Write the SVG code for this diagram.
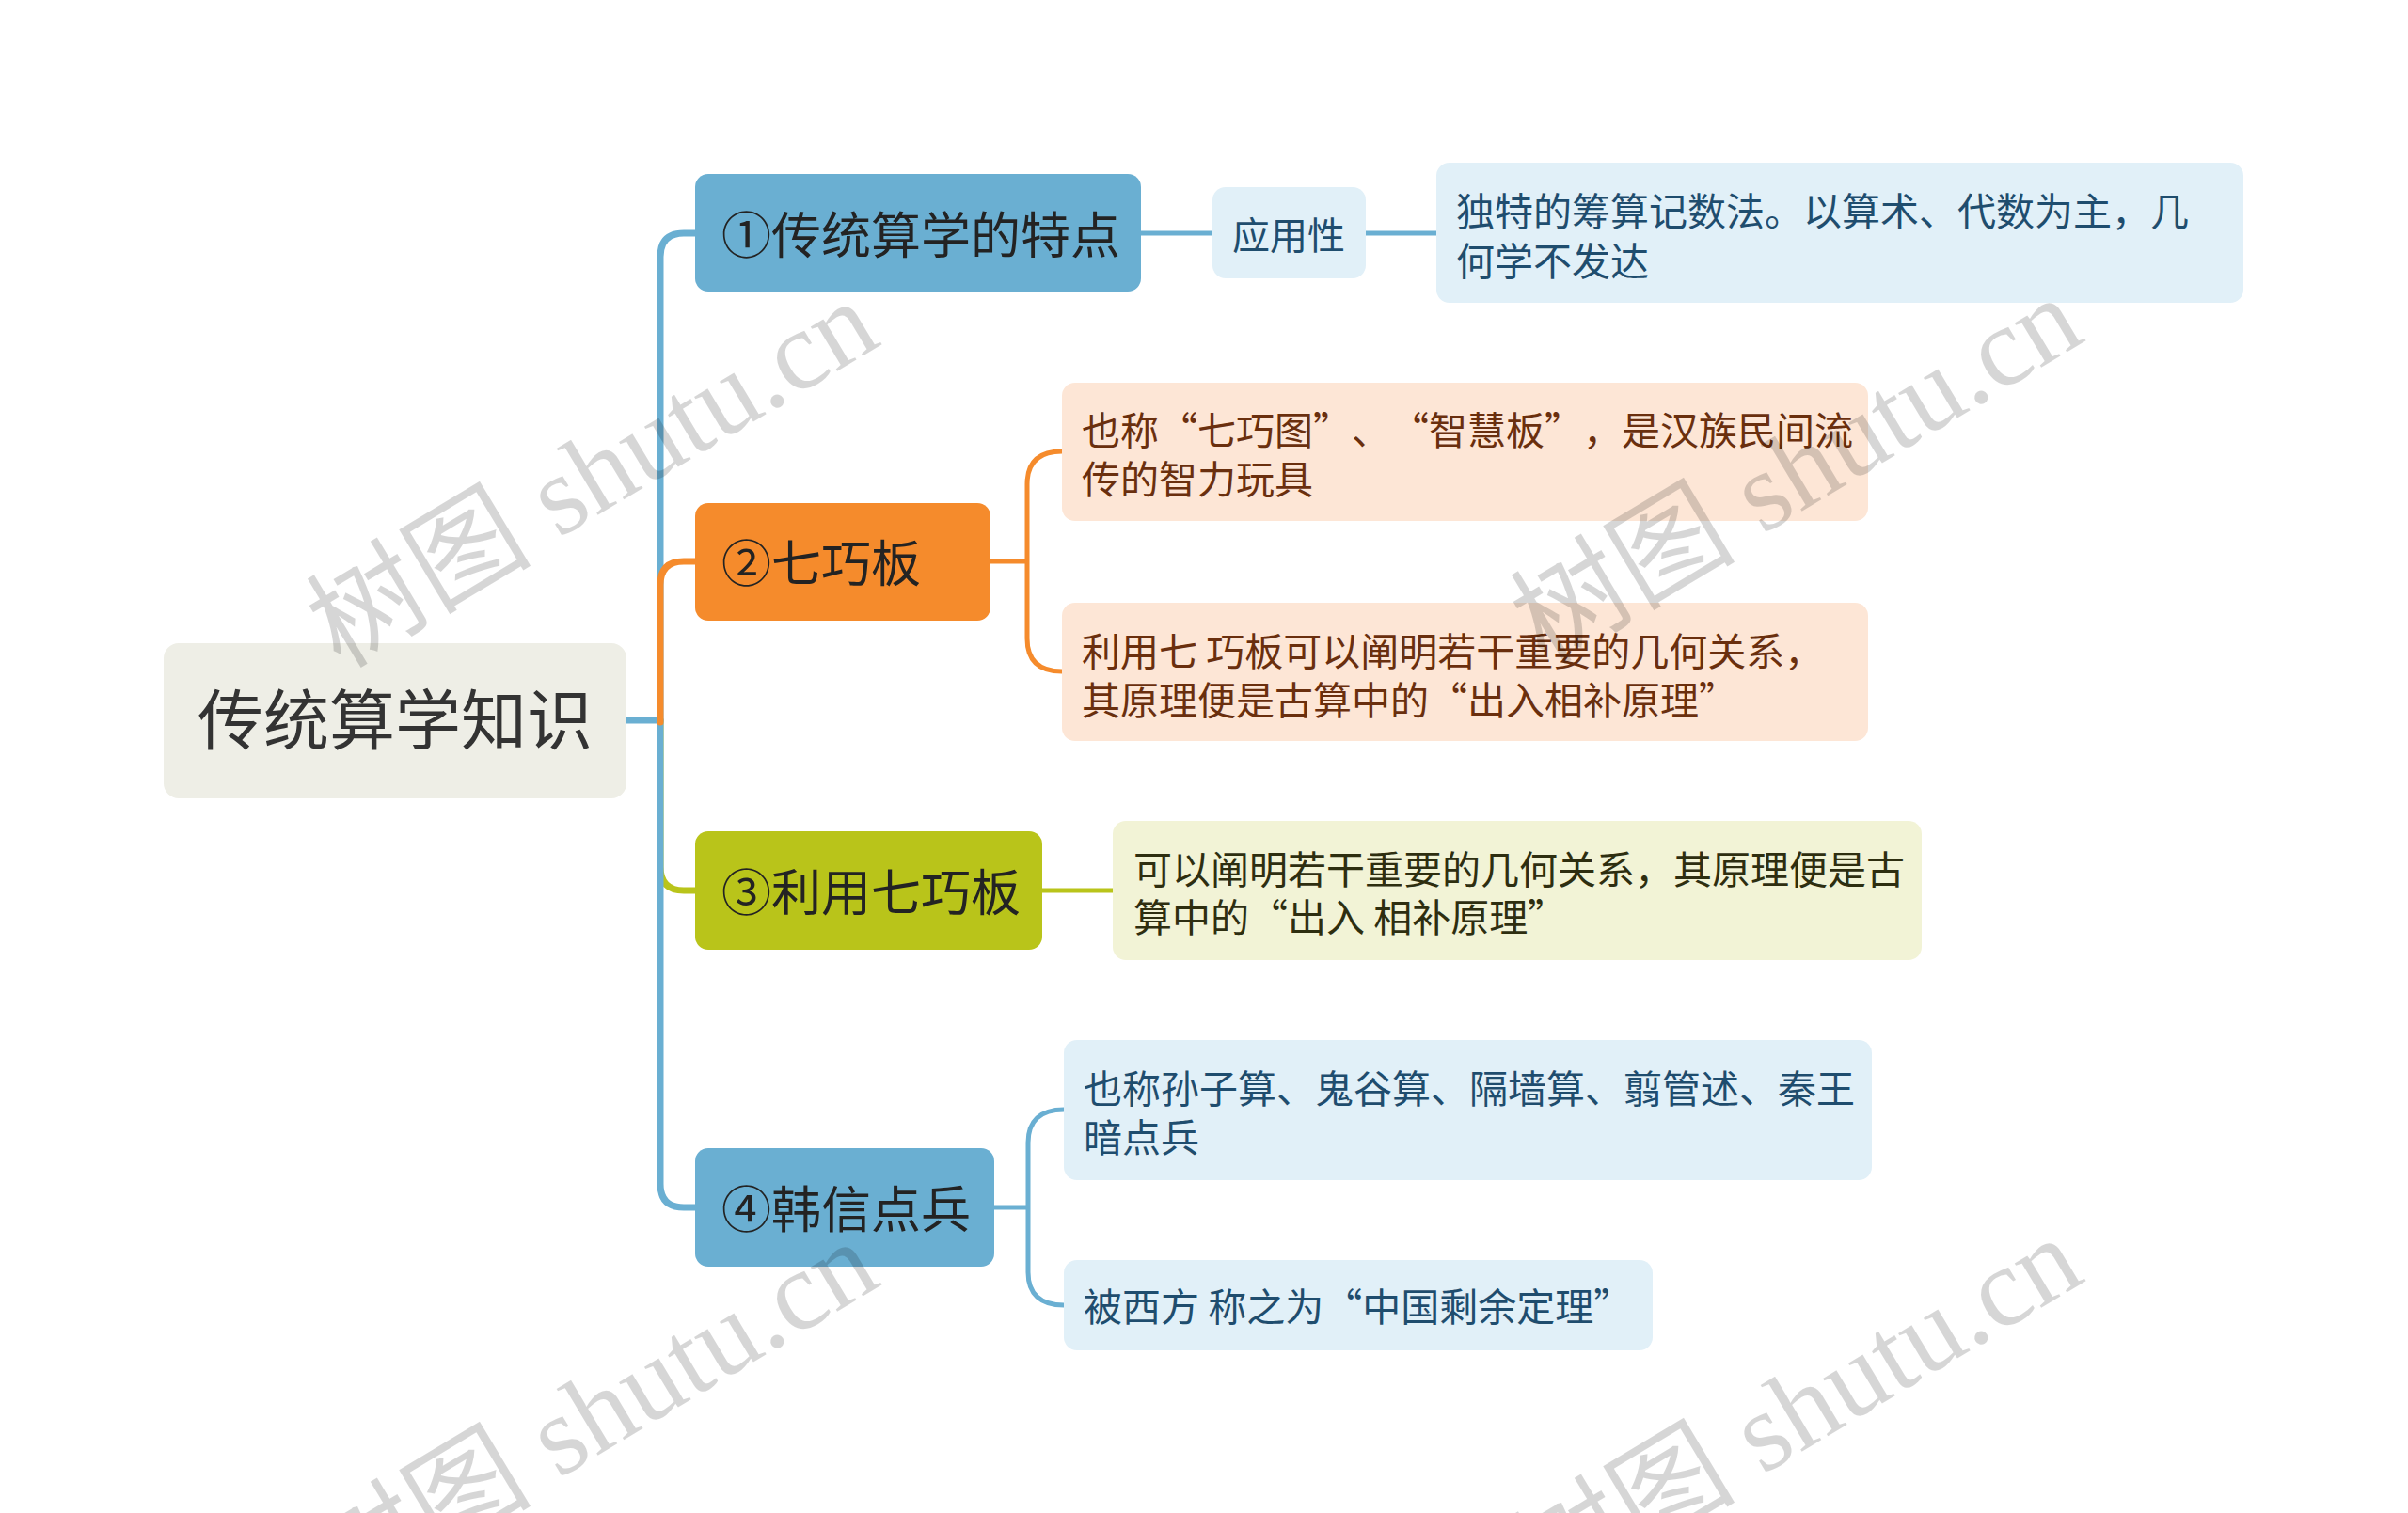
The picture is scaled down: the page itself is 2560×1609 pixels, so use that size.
<svg xmlns="http://www.w3.org/2000/svg" width="2560" height="1609" viewBox="0 0 2560 1609">
<style>
  .cjk { font-family: "Noto Sans CJK SC", "Noto Sans", sans-serif; text-spacing-trim: space-all; }
  .root-box { fill: #eeeee6; }
  .root-txt { font-size: 70px; fill: #333333; }
  .main-txt { font-size: 53px; fill: #232323; }
  .sub-txt { font-size: 40px; }
  .det-txt { font-size: 41px; }
  .blue { fill: #6aafd2; }
  .orange { fill: #f58b2c; }
  .green { fill: #b9c41a; }
  .lblue { fill: #e1f0f8; }
  .lorange { fill: #fde6d6; }
  .lgreen { fill: #f2f3d6; }
  .tblue { fill: #1f4d6e; }
  .torange { fill: #6a2f0e; }
  .tgreen { fill: #2e2e10; }
  .c { fill: none; stroke-linecap: round; stroke-linejoin: round; }
  .cb { stroke: #6aafd2; }
  .co { stroke: #f58b2c; }
  .cg { stroke: #b9c41a; }
  .wm { font-family: "Liberation Serif", "Noto Sans CJK SC", serif; font-size: 120px; fill: #000000; fill-opacity: 0.16; }
</style>
<rect width="2560" height="1609" fill="#ffffff"/>

<g id="connectors">
  <path class="c cg" stroke-width="7" d="M702,766 V922 Q702,947 727,947 H739"/>
  <path class="c cb" stroke-width="7" d="M666,766 H702 V273 Q702,248 727,248 H739"/>
  <path class="c cb" stroke-width="7" d="M702,766 V1259 Q702,1284 727,1284 H739"/>
  <path class="c co" stroke-width="7" d="M702,768 V622 Q702,597 727,597 H739"/>
  <path class="c cb" stroke-width="5" d="M1213,248 H1289"/>
  <path class="c cb" stroke-width="5" d="M1452,248 H1527"/>
  <path class="c co" stroke-width="5" d="M1053,597 H1092 M1092,597 V515 C1092,492 1104,480 1129,480 M1092,597 V679 C1092,702 1104,714 1129,714"/>
  <path class="c cg" stroke-width="5" d="M1108,947 H1183"/>
  <path class="c cb" stroke-width="5" d="M1057,1284 H1093 M1093,1284 V1215 C1093,1192 1106,1180 1131,1180 M1093,1284 V1353 C1093,1376 1106,1388 1131,1388"/>
</g>

<g id="root">
  <rect class="root-box" x="174" y="684" width="492" height="165" rx="16"/>
  <text class="cjk root-txt" x="420" y="792" text-anchor="middle">传统算学知识</text>
</g>

<g id="n1">
  <rect class="blue" x="739" y="185" width="474" height="125" rx="14"/>
  <text class="cjk main-txt" x="767" y="270">①传统算学的特点</text>
</g>
<g id="n1-sub">
  <rect class="lblue" x="1289" y="199" width="163" height="97" rx="14"/>
  <text class="cjk sub-txt tblue" x="1370" y="265" text-anchor="middle">应用性</text>
</g>
<g id="n1-detail">
  <rect class="lblue" x="1527" y="173" width="858" height="149" rx="14"/>
  <text class="cjk det-txt tblue" x="1548" y="240">独特的筹算记数法。以算术、代数为主，几</text>
  <text class="cjk det-txt tblue" x="1548" y="293">何学不发达</text>
</g>

<g id="n2">
  <rect class="orange" x="739" y="535" width="314" height="125" rx="14"/>
  <text class="cjk main-txt" x="767" y="619">②七巧板</text>
</g>
<g id="n2-detail-a">
  <rect class="lorange" x="1129" y="407" width="857" height="147" rx="14"/>
  <text class="cjk det-txt torange" x="1150" y="473">也称“七巧图”、“智慧板”，是汉族民间流</text>
  <text class="cjk det-txt torange" x="1150" y="525">传的智力玩具</text>
</g>
<g id="n2-detail-b">
  <rect class="lorange" x="1129" y="641" width="857" height="147" rx="14"/>
  <text class="cjk det-txt torange" x="1150" y="708">利用七 巧板可以阐明若干重要的几何关系，</text>
  <text class="cjk det-txt torange" x="1150" y="760">其原理便是古算中的“出入相补原理”</text>
</g>

<g id="n3">
  <rect class="green" x="739" y="884" width="369" height="126" rx="14"/>
  <text class="cjk main-txt" x="767" y="969">③利用七巧板</text>
</g>
<g id="n3-detail">
  <rect class="lgreen" x="1183" y="873" width="860" height="148" rx="14"/>
  <text class="cjk det-txt tgreen" x="1205" y="940">可以阐明若干重要的几何关系，其原理便是古</text>
  <text class="cjk det-txt tgreen" x="1205" y="991">算中的“出入 相补原理”</text>
</g>

<g id="n4">
  <rect class="blue" x="739" y="1221" width="318" height="126" rx="14"/>
  <text class="cjk main-txt" x="767" y="1306">④韩信点兵</text>
</g>
<g id="n4-detail-a">
  <rect class="lblue" x="1131" y="1106" width="859" height="149" rx="14"/>
  <text class="cjk det-txt tblue" x="1152" y="1173">也称孙子算、鬼谷算、隔墙算、翦管述、秦王</text>
  <text class="cjk det-txt tblue" x="1152" y="1225">暗点兵</text>
</g>
<g id="n4-detail-b">
  <rect class="lblue" x="1131" y="1340" width="626" height="96" rx="14"/>
  <text class="cjk det-txt tblue" x="1152" y="1405">被西方 称之为“中国剩余定理”</text>
</g>

<g id="watermarks">
  <text class="wm" transform="translate(362,712) rotate(-31)">树图 shutu.cn</text>
  <text class="wm" transform="translate(1642,708) rotate(-31)">树图 shutu.cn</text>
  <text class="wm" transform="translate(362,1712) rotate(-31)">树图 shutu.cn</text>
  <text class="wm" transform="translate(1642,1708) rotate(-31)">树图 shutu.cn</text>
</g>
</svg>
